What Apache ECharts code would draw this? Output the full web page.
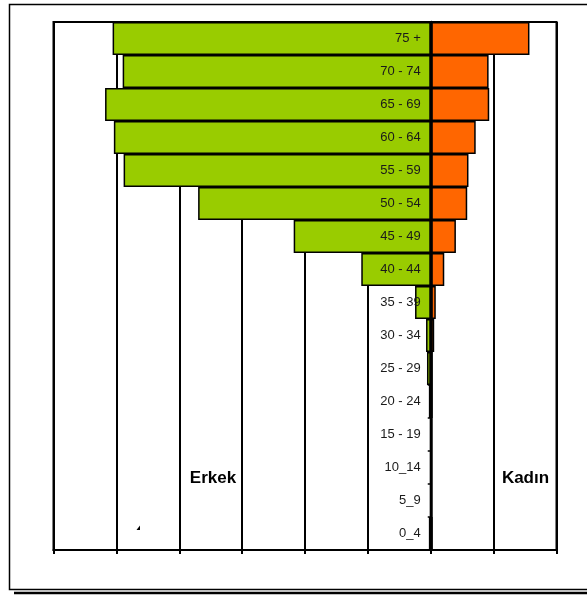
<!DOCTYPE html>
<html>
<head>
<meta charset="utf-8">
<script src="https://cdn.jsdelivr.net/npm/echarts@6/dist/echarts.min.js"></script>
<style>html,body{margin:0;padding:0;background:#fff;}#c{width:587px;height:597px;}</style>
</head>
<body>
<div id="c"></div>
<script>
// Age groups, bottom to top
const categories = ['0_4','5_9','10_14','15 - 19','20 - 24','25 - 29','30 - 34','35 - 39','40 - 44','45 - 49','50 - 54','55 - 59','60 - 64','65 - 69','70 - 74','75 +'];
// Erkek (male) values, plotted to the left
const maleValues = [30, 10, 10, 10, 30, 60, 75, 250, 1105, 2180, 3700, 4885, 5040, 5180, 4900, 5060];
// Kadın (female) values, plotted to the right
const femaleValues = [30, 10, 10, 10, 30, 30, 55, 80, 215, 400, 580, 600, 715, 930, 920, 1570];
const xTicks = [-6000, -5000, -4000, -3000, -2000, -1000, 0, 1000, 2000];
const maleLabel = 'Erkek';
const femaleLabel = 'Kadın';

const GRID_LEFT = 53.5, GRID_RIGHT = 30.5, W = 587;
const plotW = W - GRID_LEFT - GRID_RIGHT;
const zeroOffset = -plotW * (0 - xTicks[0]) / (xTicks[xTicks.length - 1] - xTicks[0]);

const chart = echarts.init(document.getElementById('c'), null, {renderer: 'canvas'});
const FONT = '"Liberation Sans", Arial, sans-serif';
chart.setOption({
  animation: false,
  backgroundColor: '#fff',
  grid: {left: GRID_LEFT, right: GRID_RIGHT, top: 22, bottom: 47, show: true, borderColor: '#000', borderWidth: 2, backgroundColor: 'transparent'},
  xAxis: {
    type: 'value', min: xTicks[0], max: xTicks[xTicks.length - 1], interval: 1000,
    axisLine: {show: true, onZero: false, lineStyle: {color: '#000', width: 2}},
    axisTick: {show: true, length: 4, lineStyle: {color: '#000', width: 2}},
    axisLabel: {show: false},
    splitLine: {show: true, lineStyle: {color: '#000', width: 2}}
  },
  yAxis: {
    type: 'category', data: categories, z: 5, position: 'left', offset: zeroOffset,
    axisLine: {show: true, onZero: false, lineStyle: {color: '#000', width: 2.5}},
    axisTick: {show: true, length: 3, lineStyle: {color: '#000', width: 1.5}},
    axisLabel: {show: true, margin: 10, color: '#1a1a1a', fontSize: 13, fontFamily: FONT},
    splitLine: {show: false}
  },
  series: [
    {
      name: maleLabel, type: 'bar', data: maleValues.map(v => -v),
      barCategoryGap: 0, barGap: '-100%',
      itemStyle: {color: '#99cc00', borderColor: '#000', borderWidth: 1.5}
    },
    {
      name: femaleLabel, type: 'bar', data: femaleValues,
      barCategoryGap: 0, barGap: '-100%',
      itemStyle: {color: '#ff6600', borderColor: '#000', borderWidth: 1.5}
    }
  ],
  graphic: [
    {type: 'rect', shape: {x: 9.5, y: 4.5, width: 600, height: 585}, style: {fill: 'none', stroke: '#000', lineWidth: 1.5}, z: 10},
    {type: 'line', shape: {x1: 14, y1: 593, x2: 600, y2: 593}, style: {stroke: '#000', lineWidth: 2.5}, z: 10},
    {type: 'text', x: 213, y: 478, style: {text: maleLabel, font: 'bold 17px ' + FONT, fill: '#000', align: 'center', verticalAlign: 'middle'}, z: 10},
    {type: 'text', x: 525.5, y: 478, style: {text: femaleLabel, font: 'bold 17px ' + FONT, fill: '#000', align: 'center', verticalAlign: 'middle'}, z: 10},
    {type: 'polygon', shape: {points: [[136.5, 530], [140, 525.5], [140, 530]]}, style: {fill: '#000'}, z: 10}
  ]
});
</script>
</body>
</html>
